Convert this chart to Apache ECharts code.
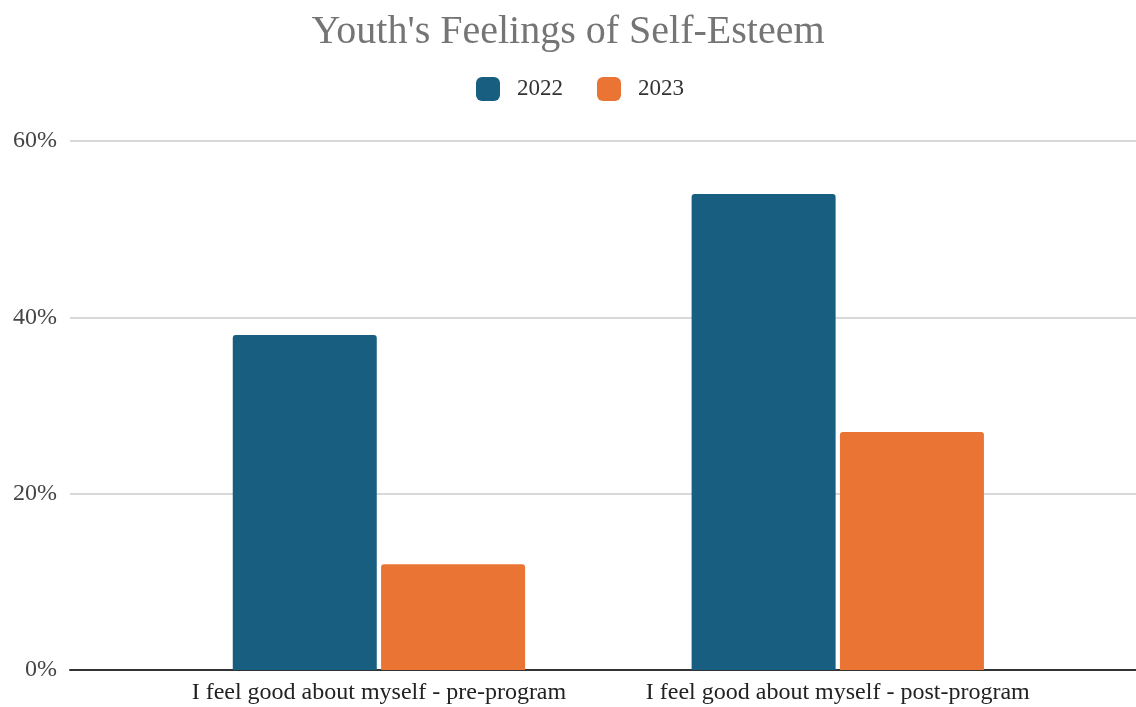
<!DOCTYPE html>
<html lang="en">
<head>
    <meta charset="utf-8">
    <title>Youth's Feelings of Self-Esteem</title>
    <script src="https://cdn.jsdelivr.net/npm/echarts@6/dist/echarts.min.js"></script>
    <style>
        html, body { margin: 0; padding: 0; background: #fff; }
        #main { width: 1136px; height: 707px; }
    </style>
</head>
<body>
<div id="main"></div>
<script type="text/javascript">
    var categories = ['I feel good about myself - pre-program', 'I feel good about myself - post-program'];
    var years = ['2022', '2023'];
    var values2022 = [0.38, 0.54];
    var values2023 = [0.12, 0.27];
    var yTicks = [0, 0.2, 0.4, 0.6];

    var serif = '"Liberation Serif", "DejaVu Serif", serif';
    var myChart = echarts.init(document.getElementById('main'));

    myChart.setOption({
        animation: false,
        color: ['#175e80', '#e97434'],
        title: {
            text: "Youth's Feelings of Self-Esteem",
            left: 'center',
            top: 7,
            textStyle: { fontFamily: serif, fontSize: 40, fontWeight: 'normal', color: '#757575' }
        },
        legend: {
            data: years,
            top: 77,
            left: 476,
            icon: 'roundRect',
            itemWidth: 24,
            itemHeight: 24,
            itemGap: 34,
            padding: 0,
            textStyle: { fontFamily: serif, fontSize: 23, color: '#333', padding: [0, 0, 0, 12] }
        },
        grid: [
            // background grid: gridlines and baseline span the full width
            { left: 70, right: 0, top: 141, bottom: 37 },
            // bars sit in a narrower band
            { left: 149.5, right: 68.8, top: 141, bottom: 37 }
        ],
        xAxis: [{
            gridIndex: 0,
            type: 'value',
            min: 0,
            max: 1,
            axisLine: { show: true, lineStyle: { color: '#333', width: 2 } },
            axisTick: { show: false },
            axisLabel: { show: false },
            splitLine: { show: false }
        }, {
            gridIndex: 1,
            type: 'category',
            data: categories,
            axisLine: { show: false },
            axisTick: { show: false },
            axisLabel: { interval: 0, hideOverlap: false, margin: 11, fontFamily: serif, fontSize: 24, color: '#222' }
        }],
        yAxis: [{
            gridIndex: 0,
            type: 'value',
            min: 0,
            max: 0.6,
            interval: 0.2,
            axisLine: { show: false },
            axisTick: { show: false },
            axisLabel: {
                margin: 13,
                fontFamily: serif,
                fontSize: 24,
                color: '#444',
                formatter: function (v) {
                    return yTicks.indexOf(Math.round(v * 10) / 10) >= 0 ? Math.round(v * 100) + '%' : '';
                }
            },
            splitLine: { lineStyle: { color: '#cccccc', width: 1.5 } }
        }, {
            gridIndex: 1,
            type: 'value',
            min: 0,
            max: 0.6,
            show: false
        }],
        series: [{
            name: '2022',
            type: 'bar',
            xAxisIndex: 1,
            yAxisIndex: 1,
            data: values2022,
            barWidth: 144,
            barGap: '3%',
            itemStyle: { borderRadius: [3, 3, 0, 0] }
        }, {
            name: '2023',
            type: 'bar',
            xAxisIndex: 1,
            yAxisIndex: 1,
            data: values2023,
            barWidth: 144,
            barGap: '3%',
            itemStyle: { borderRadius: [3, 3, 0, 0] }
        }]
    });
</script>
</body>
</html>
